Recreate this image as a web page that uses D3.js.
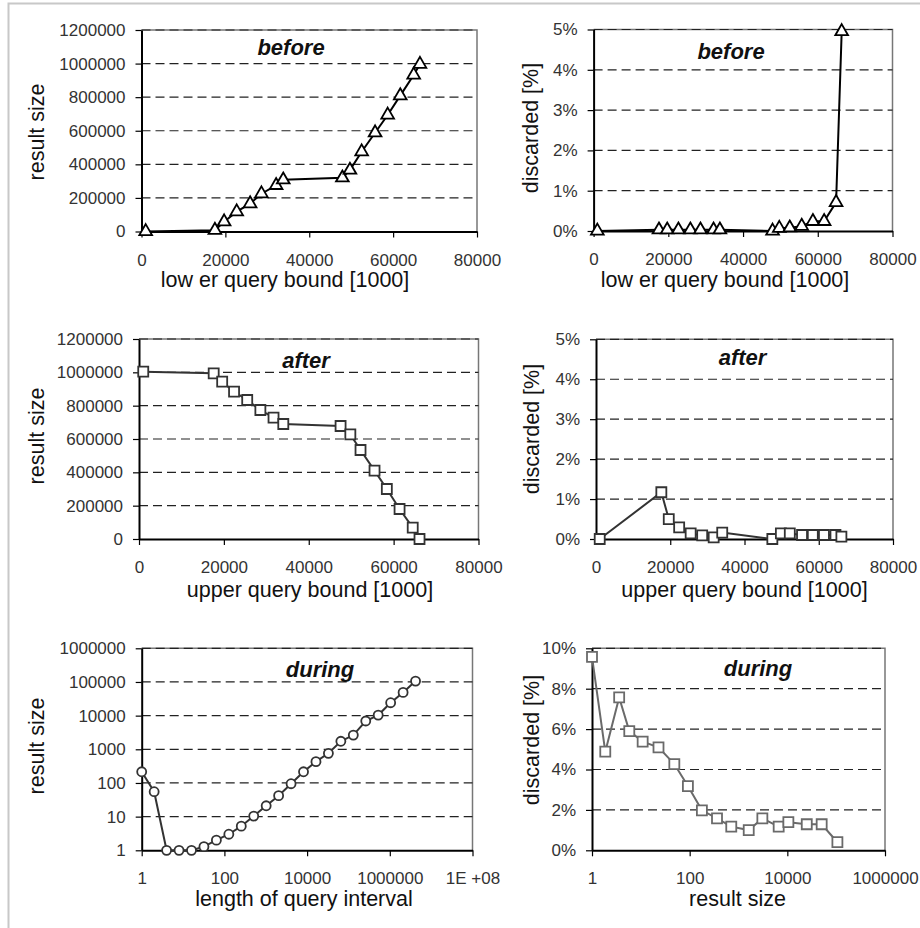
<!DOCTYPE html>
<html>
<head>
<meta charset="utf-8">
<script src="https://cdn.jsdelivr.net/npm/d3@7"></script>
<style>
	body { margin: 0; background: #fff; }
	svg { display: block; font-family: "Liberation Sans", Arial, sans-serif; }
	.tick text { fill: #333; font-size: 17px; }
	.axis-title { fill: #111; font-size: 21.5px; }
	.panel-title { fill: #111; font-size: 22px; font-weight: bold; font-style: italic; }
</style>
</head>
<body>
<div id="chart"></div>
<script>
// query bounds [1000]
const lowerBound = [1000, 17500, 19700, 22700, 25900, 28600, 32100, 33800, 47900, 49700, 52500, 55700, 58700, 61700, 64900, 66400];
const upperBound = [1000, 17600, 19600, 22400, 25500, 28600, 31700, 34000, 47500, 49800, 52200, 55500, 58400, 61400, 64500, 66100];

const beforeResult = [0, 8000, 58000, 118000, 166000, 225000, 275000, 308000, 320000, 366000, 475000, 588000, 694000, 809000, 932000, 996000];
const beforeDiscarded = [0, 0.03, 0.03, 0.03, 0.03, 0.03, 0.03, 0.03, 0, 0.07, 0.08, 0.12, 0.24, 0.24, 0.71, 4.95];

const afterResult = [1004000, 994000, 944000, 884000, 834000, 774000, 728000, 690000, 678000, 628000, 534000, 410000, 300000, 180000, 68000, 0];
const afterDiscarded = [0, 1.17, 0.5, 0.29, 0.14, 0.09, 0.04, 0.16, 0, 0.14, 0.14, 0.1, 0.1, 0.1, 0.1, 0.06];

const intervalLength = [1, 2, 4, 8, 16, 32, 64, 128, 256, 512, 1024, 2048, 4096, 8192, 16384, 32768, 65536, 131072, 262144, 524288, 1048576, 2097152, 4194304];
const duringResult = [215, 55, 1, 1, 1, 1.28, 2, 3, 5.2, 10.4, 21, 42, 95, 215, 430, 760, 1730, 2650, 6930, 10400, 24200, 49000, 106000];

const duringSize = [1, 1.87, 3.6, 5.8, 10.9, 23, 48.5, 92, 178, 363, 711, 1620, 3080, 6650, 10500, 25000, 50500, 106000];
const duringDiscarded = [9.58, 4.88, 7.57, 5.9, 5.38, 5.1, 4.27, 3.18, 1.98, 1.58, 1.17, 1.0, 1.58, 1.17, 1.39, 1.29, 1.29, 0.4];

// tick labels
const boundTicks = [0, 20000, 40000, 60000, 80000];
const resultTicks = [0, 200000, 400000, 600000, 800000, 1000000, 1200000];
const pctTicks5 = [0, 1, 2, 3, 4, 5];
const pctTicks10 = [0, 2, 4, 6, 8, 10];
const logTicks8 = [1, 100, 10000, 1000000, 100000000];
const logTicks6 = [1, 100, 10000, 1000000];
const logTicksY = [1, 10, 100, 1000, 10000, 100000, 1000000];

const width = 920, height = 928;
const pct = d => d + '%';
const plain = d => String(d);
const sci = d => d >= 1e8 ? '1E +08' : String(d);

const panels = [
	{ xs: lowerBound, ys: beforeResult, box: [141.5, 477, 30, 231.5], xType: 'lin', xDomain: [0, 80000], xTicks: boundTicks, xFmt: plain,
		yType: 'lin', yDomain: [0, 1200000], yTicks: resultTicks, yFmt: plain, symbol: d3.symbolTriangle, size: 70, color: '#000',
		title: 'before', titlePos: [291, 55], xTitle: 'low er query bound [1000]', xTitlePos: [285, 287], yTitle: 'result size', yTitlePos: [44, 132] },
	{ xs: lowerBound, ys: beforeDiscarded, box: [593.6, 892.5, 29.5, 231], xType: 'lin', xDomain: [0, 80000], xTicks: boundTicks, xFmt: plain,
		yType: 'lin', yDomain: [0, 5], yTicks: pctTicks5, yFmt: pct, symbol: d3.symbolTriangle, size: 70, color: '#000',
		title: 'before', titlePos: [731, 59], xTitle: 'low er query bound [1000]', xTitlePos: [725, 287], yTitle: 'discarded [%]', yTitlePos: [538, 128] },
	{ xs: upperBound, ys: afterResult, box: [139, 478.5, 339, 539], xType: 'lin', xDomain: [0, 80000], xTicks: boundTicks, xFmt: plain,
		yType: 'lin', yDomain: [0, 1200000], yTicks: resultTicks, yFmt: plain, symbol: d3.symbolSquare, size: 100, color: '#333',
		title: 'after', titlePos: [306, 367.5], xTitle: 'upper query bound [1000]', xTitlePos: [310, 597], yTitle: 'result size', yTitlePos: [43.5, 436] },
	{ xs: upperBound, ys: afterDiscarded, box: [596, 893, 339.3, 539], xType: 'lin', xDomain: [0, 80000], xTicks: boundTicks, xFmt: plain,
		yType: 'lin', yDomain: [0, 5], yTicks: pctTicks5, yFmt: pct, symbol: d3.symbolSquare, size: 100, color: '#333',
		title: 'after', titlePos: [742.5, 365], xTitle: 'upper query bound [1000]', xTitlePos: [744.5, 597], yTitle: 'discarded [%]', yTitlePos: [539, 429] },
	{ xs: intervalLength, ys: duringResult, box: [141.7, 472.5, 648.3, 850.3], xType: 'log', xDomain: [1, 1e8], xTicks: logTicks8, xFmt: sci,
		yType: 'log', yDomain: [1, 1e6], yTicks: logTicksY, yFmt: plain, symbol: d3.symbolCircle, size: 64, color: '#333',
		title: 'during', titlePos: [320, 677], xTitle: 'length of query interval', xTitlePos: [304, 906], yTitle: 'result size', yTitlePos: [43.5, 746] },
	{ xs: duringSize, ys: duringDiscarded, box: [592, 885, 648.3, 850.3], xType: 'log', xDomain: [1, 1e6], xTicks: logTicks6, xFmt: plain,
		yType: 'lin', yDomain: [0, 10], yTicks: pctTicks10, yFmt: pct, symbol: d3.symbolSquare, size: 100, color: '#6a6a6a',
		title: 'during', titlePos: [758, 676], xTitle: 'result size', xTitlePos: [737.5, 906], yTitle: 'discarded [%]', yTitlePos: [539, 740] }
];

const svg = d3.select('#chart').append('svg')
	.attr('width', width)
	.attr('height', height);

// light frame round the figure
svg.append('path')
	.attr('d', `M8.5,${height} L8.5,3.5 L${width},3.5`)
	.attr('fill', 'none')
	.attr('stroke', '#c8c8c8')
	.attr('stroke-width', 2);

panels.forEach(p => {
	const [x0, x1, y0, y1] = p.box;
	const x = (p.xType === 'log' ? d3.scaleLog() : d3.scaleLinear()).domain(p.xDomain).range([x0, x1]);
	const y = (p.yType === 'log' ? d3.scaleLog() : d3.scaleLinear()).domain(p.yDomain).range([y1, y0]);
	const g = svg.append('g');

	// plot area border (top/right)
	g.append('path')
		.attr('d', `M${x0},${y0} L${x1},${y0} L${x1},${y1}`)
		.attr('fill', 'none')
		.attr('stroke', '#777')
		.attr('stroke-width', 1.5);

	// dashed gridlines
	g.selectAll('.grid')
		.data(p.yTicks.slice(1))
		.enter()
		.append('line')
		.attr('x1', x0)
		.attr('x2', x1)
		.attr('y1', d => y(d))
		.attr('y2', d => y(d))
		.attr('stroke', '#222')
		.attr('stroke-width', 1.2)
		.attr('stroke-dasharray', '9,5');

	const xAxis = g.append('g')
		.attr('transform', `translate(0,${y1})`)
		.call(d3.axisBottom(x).tickValues(p.xTicks).tickFormat(p.xFmt).tickSizeInner(6).tickSizeOuter(0).tickPadding(16));
	const yAxis = g.append('g')
		.attr('transform', `translate(${x0},0)`)
		.call(d3.axisLeft(y).tickValues(p.yTicks).tickFormat(p.yFmt).tickSizeInner(6).tickSizeOuter(0).tickPadding(10));
	[xAxis, yAxis].forEach(a => {
		a.select('.domain').attr('stroke', '#000').attr('stroke-width', 2);
		a.selectAll('.tick line').attr('stroke', '#000').attr('stroke-width', 1.2);
		a.attr('font-family', null).attr('font-size', null);
	});

	// series line
	const pts = p.xs.map((v, i) => [x(v), y(p.ys[i])]);
	g.append('path')
		.attr('d', d3.line()(pts))
		.attr('fill', 'none')
		.attr('stroke', p.color)
		.attr('stroke-width', 2);

	g.selectAll('.marker')
		.data(pts)
		.enter()
		.append('path')
		.attr('d', d3.symbol().type(p.symbol).size(p.size))
		.attr('transform', d => `translate(${d[0]},${d[1]})`)
		.attr('fill', '#fff')
		.attr('stroke', p.color)
		.attr('stroke-width', 1.8);

	g.append('text')
		.classed('panel-title', true)
		.attr('x', p.titlePos[0])
		.attr('y', p.titlePos[1])
		.attr('text-anchor', 'middle')
		.text(p.title);

	g.append('text')
		.classed('axis-title', true)
		.attr('x', p.xTitlePos[0])
		.attr('y', p.xTitlePos[1])
		.attr('text-anchor', 'middle')
		.text(p.xTitle);

	g.append('text')
		.classed('axis-title', true)
		.attr('transform', `translate(${p.yTitlePos[0]},${p.yTitlePos[1]}) rotate(-90)`)
		.attr('text-anchor', 'middle')
		.text(p.yTitle);
});
</script>
</body>
</html>
